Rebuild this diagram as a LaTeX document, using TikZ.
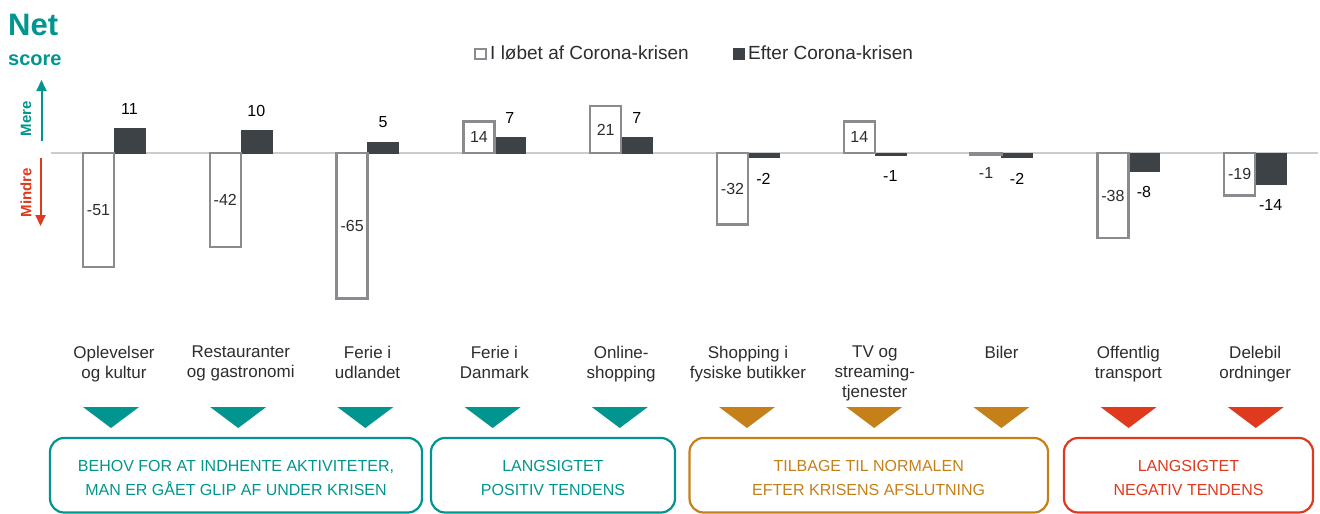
\documentclass[tikz,border=0pt]{standalone}
\usepackage{fontspec}
\setmainfont{Liberation Sans}
\usetikzlibrary{arrows.meta}
\definecolor{tealc}{RGB}{0,150,143}
\definecolor{orngc}{RGB}{198,128,26}
\definecolor{redc}{RGB}{224,58,30}
\definecolor{hollowgray}{RGB}{138,138,145}
\definecolor{darkbar}{RGB}{61,66,70}
\definecolor{axisgray}{RGB}{204,204,204}
\definecolor{txtgray}{RGB}{45,45,45}
\begin{document}
\begin{tikzpicture}[x=1pt,y=-1pt,
  hollowbar/.style={draw=hollowgray, line width=2.4pt, fill=white},
  filledbar/.style={fill=darkbar, draw=darkbar, line width=0.6pt},
  numlbl/.style={font=\fontsize{16}{18}\selectfont, text=txtgray, inner sep=0pt},
  catlbl/.style={font=\fontsize{17}{20}\selectfont, text=txtgray, align=center, anchor=north, inner sep=0pt},
  groupbox/.style={draw=#1, line width=2.2pt, rounded corners=14pt},
  boxtxt/.style={font=\fontsize{16}{24}\selectfont, text=#1, align=center, anchor=north, inner sep=0pt},
  legtxt/.style={font=\fontsize{19}{22}\selectfont, text=txtgray, anchor=base west, inner sep=0pt},
  dirarrow/.style={line width=2pt, -{Triangle[width=10pt,length=11pt]}}
]
\useasboundingbox (0,0) rectangle (1320,514);
\fill[white] (0,0) rectangle (1320,514);

% title
\node[anchor=base west, inner sep=0pt, text=tealc, font=\fontsize{31}{34}\selectfont\bfseries] (net) at (8,35) {Net};
\node[anchor=base west, inner sep=0pt, text=tealc, font=\fontsize{20}{22}\selectfont\bfseries] (score) at (8,65) {score};

% direction arrows
\coordinate (mereS) at (41.5,141);
\coordinate (mereE) at (41.5,80);
\coordinate (mindS) at (40.5,158);
\coordinate (mindE) at (40.5,226);
\draw[dirarrow, tealc] (mereS) -- (mereE);
\draw[dirarrow, redc] (mindS) -- (mindE);
\node[rotate=90, inner sep=0pt, text=tealc, font=\fontsize{15}{17}\selectfont\bfseries] (mere) at (26,118.5) {Mere};
\node[rotate=90, inner sep=0pt, text=redc, font=\fontsize{15}{17}\selectfont\bfseries] (mindre) at (26,192.5) {Mindre};

% legend
\draw[draw=hollowgray, line width=2pt, fill=white] (475,49) rectangle (486,59);
\node[legtxt] (leg1) at (490,59) {I løbet af Corona-krisen};
\fill[darkbar] (733,48) rectangle (745,59.5);
\node[legtxt] (leg2) at (748,59) {Efter Corona-krisen};

% axis
\coordinate (axL) at (51,153);
\coordinate (axR) at (1318,153);
\draw[axisgray, line width=2pt] (axL) -- (axR);

% bars
\foreach \i/\h/\f in {1/-51/11, 2/-42/10, 3/-65/5, 4/14/7, 5/21/7, 6/-32/-2, 7/14/-1, 8/-1/-2, 9/-38/-8, 10/-19/-14} {
  \pgfmathsetmacro\c{114+126.8*(\i-1)}
  \pgfmathsetmacro\hy{153-2.24*\h}
  \pgfmathsetmacro\fy{153-2.24*\f}
  \pgfmathsetmacro\hly{abs(\h)<5 ? \hy+18 : (153+\hy)/2}
  \pgfmathsetmacro\fly{\f>0 ? \fy-19.5 : \fy+21}
  \draw[filledbar] (\c,153) rectangle (\c+31,\fy);
  \draw[hollowbar] (\c-31,153) rectangle (\c,\hy);
  \node[numlbl] (hl\i) at (\c-15.5,\hly) {\h};
  \node[numlbl, text=black] (fl\i) at (\c+15.5,\fly) {\f};
}

% category labels
\node[catlbl] (cat1) at (114,345.6) {Oplevelser\\og kultur};
\node[catlbl] (cat2) at (240.8,345.6) {Restauranter\\og gastronomi};
\node[catlbl] (cat3) at (367.6,345.6) {Ferie i\\udlandet};
\node[catlbl] (cat4) at (494.4,345.6) {Ferie i\\Danmark};
\node[catlbl] (cat5) at (621.2,345.6) {Online-\\shopping};
\node[catlbl] (cat6) at (748,345.6) {Shopping i\\fysiske butikker};
\node[catlbl] (cat7) at (874.8,345.6) {TV og\\streaming-\\tjenester};
\node[catlbl] (cat8) at (1001.6,345.6) {Biler};
\node[catlbl] (cat9) at (1128.4,345.6) {Offentlig\\transport};
\node[catlbl] (cat10) at (1255.2,345.6) {Delebil\\ordninger};

% triangles
\foreach \i/\col in {1/tealc,2/tealc,3/tealc,4/tealc,5/tealc,6/orngc,7/orngc,8/orngc,9/redc,10/redc} {
  \pgfmathsetmacro\t{111+127.2*(\i-1)}
  \fill[\col] (\t-28,407) -- (\t+28,407) -- (\t,428) -- cycle;
}

% group boxes
\draw[groupbox=tealc] (50,438) rectangle (422,512.5);
\draw[groupbox=tealc] (431,438) rectangle (675,512.5);
\draw[groupbox=orngc] (689.5,438) rectangle (1048,512.5);
\draw[groupbox=redc] (1064,438) rectangle (1313,512.5);

\node[boxtxt=tealc] (bt1) at (236,460.2) {BEHOV FOR AT INDHENTE AKTIVITETER,\\MAN ER GÅET GLIP AF UNDER KRISEN};
\node[boxtxt=tealc] (bt2) at (553,460.2) {LANGSIGTET\\POSITIV TENDENS};
\node[boxtxt=orngc] (bt3) at (868.7,460.2) {TILBAGE TIL NORMALEN\\EFTER KRISENS AFSLUTNING};
\node[boxtxt=redc] (bt4) at (1188.5,460.2) {LANGSIGTET\\NEGATIV TENDENS};
\end{tikzpicture}
\end{document}
